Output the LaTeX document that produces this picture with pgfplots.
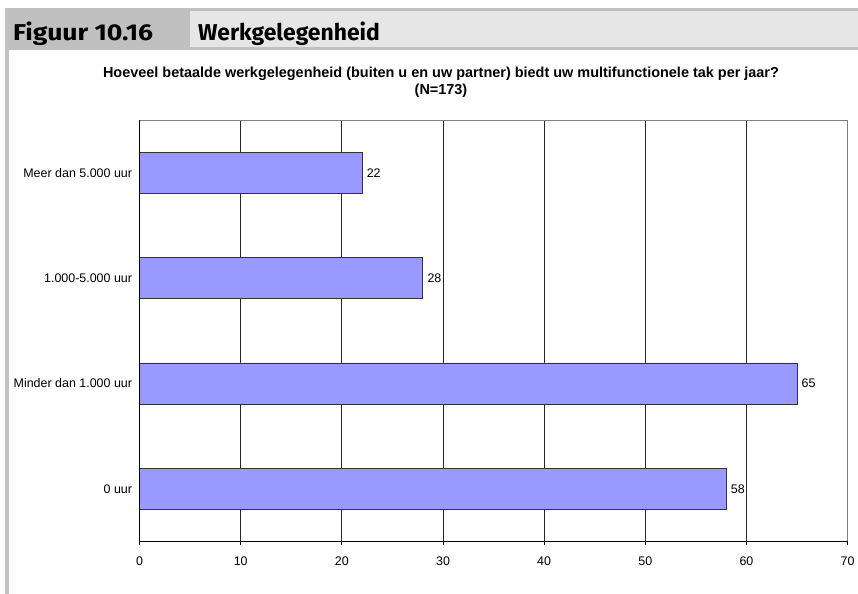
\documentclass[border=0pt]{standalone}
\usepackage{pgfplots}
\pgfplotsset{compat=1.18}
\usepackage{fontspec}
\setmainfont{Liberation Sans}
\newfontfamily\hdrfont{Fira Sans}
\definecolor{hdrdark}{HTML}{C0C0C0}
\definecolor{hdrlight}{HTML}{E6E6E6}
\definecolor{barfill}{HTML}{9999FF}
\definecolor{frame}{HTML}{808080}

\begin{document}
\begin{tikzpicture}[x=1bp,y=1bp]
\useasboundingbox (0,0) rectangle (858,594);
% header band
\fill[hdrdark] (5,586) rectangle (190,544);
\fill[hdrdark] (190,586) rectangle (858,583);
\fill[hdrlight] (190,583) rectangle (858,547);
\fill[hdrdark] (190,547) rectangle (858,544);
\fill[hdrdark] (5,544) rectangle (9,0);
\node[anchor=base west, inner sep=0pt, font=\hdrfont\bfseries\fontsize{23}{26}\selectfont] at (13,553.5) {\scalebox{1.16}[1]{Figuur 10.16}};
\node[anchor=base west, inner sep=0pt, font=\hdrfont\bfseries\fontsize{23}{26}\selectfont] at (198,553.5) {Werkgelegenheid};
% chart title
\node[align=center, inner sep=0pt, font=\bfseries\fontsize{14.5}{17}\selectfont] at (441,511.5)
  {Hoeveel betaalde werkgelegenheid (buiten u en uw partner) biedt uw multifunctionele tak per jaar?\\(N=173)};

\begin{axis}[
    at={(138,50)}, anchor=south west,
    scale only axis,
    width=708bp, height=421bp,
    xbar,
    bar width=41bp,
    xmin=0, xmax=70,
    ymin=-0.5, ymax=3.5,
    xtick={0,10,...,70},
    ytick={0,1,2,3},
    yticklabels={0 uur, Minder dan 1.000 uur, 1.000-5.000 uur, Meer dan 5.000 uur},
    y tick label style={font=\fontsize{12.5}{14}\selectfont},
    x tick label style={font=\fontsize{12.5}{14}\selectfont, yshift=-8bp},
    /pgf/number format/assume math mode=true,
    tick align=outside,
    x tick style={black, line width=0.8bp},
    xtick pos=bottom,
    major tick length=4bp,
    y tick style={draw=none},
    extra y ticks={-0.5,0.5,1.5,2.5,3.5},
    extra y tick labels={},
    extra y tick style={tick style={black, line width=0.8bp}, grid=none},
    xmajorgrids,
    major grid style={black!85, line width=0.8bp},
    axis line style={frame, line width=0.8bp},
    nodes near coords,
    nodes near coords style={anchor=west, xshift=1bp, font=\fontsize{12.5}{14}\selectfont},
    clip=false,
]
\addplot[fill=barfill, draw=black!80, line width=0.8bp] coordinates {
    (58,0)
    (65,1)
    (28,2)
    (22,3)
};
\draw[black, line width=0.8bp] (axis cs:0,3.5) -- (axis cs:0,-0.5) -- (axis cs:70,-0.5);
\end{axis}
\end{tikzpicture}
\end{document}
